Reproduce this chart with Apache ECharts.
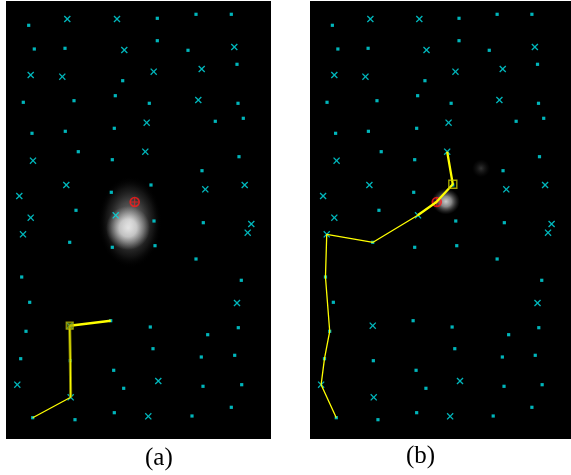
<!DOCTYPE html>
<html>
<head>
<meta charset="utf-8">
<script src="https://cdn.jsdelivr.net/npm/echarts@6/dist/echarts.min.js"></script>
<style>html,body{margin:0;padding:0;background:#fff;}#c{width:571px;height:475px;}</style>
</head>
<body>
<div id="c"></div>
<script>
// Feature points (same field in both panels), image pixel coords of panel (a)
const dots = [[28.7,25.3],[157.3,18.3],[196,14.3],[231.3,14.3],[34.3,49],[65,48.3],[157.3,40.7],[188,50.3],[237,64.3],[122.7,80.7],[23.3,102.3],[74,100.7],[115.3,95.7],[149.3,103.3],[238,103.3],[243.3,118.3],[215.3,121.3],[32,133.3],[65.3,131.3],[114.3,128.3],[78.3,151.7],[112.3,159.7],[239,156.7],[202,170.7],[151,185],[111.3,192.3],[76,210.3],[154,221],[203.3,222.7],[69.7,242.3],[112.3,247.3],[155,245.7],[196,259],[21.7,277],[241.3,280.3],[29.7,302.3],[26,331.3],[150.3,327],[238.3,327.7],[207.7,334.7],[153,348.7],[20.7,358.7],[201.3,357],[234.7,355.3],[70.3,360.7],[113.7,370.3],[123.7,388.3],[203,386.3],[241.7,384.7],[231.3,407.3],[114.3,412.7],[75,419.7],[192,416],[32.7,417.7],[110.7,320.7]];
const crosses = [[67.3,19],[117,19],[124.3,50],[234.3,47],[30.7,75],[62.3,76.7],[153.7,71.7],[201.7,69],[198.3,100],[146.7,122.7],[145.3,151.7],[33,160.7],[66.3,185],[244.7,185],[19.3,196],[205.3,189.3],[30.7,217.7],[115.7,215.3],[251.3,224],[247.7,232.7],[23,234.3],[237,303],[17.3,384.7],[158.3,381],[70.7,397.3],[148.3,416.3],[69.7,325.7]];
const target = [[134.7,202]];
// Panel (a) track
const pathAThin = [[32.7,417.7],[70.7,397.3]];
const pathAOlive = [[70.7,397.3],[70.3,360.7],[69.7,325.7]];
const pathAThick = [[69.7,325.7],[110.7,320.7]];
const squareA = [[69.7,325.7]];
// Panel (b) track
const pathBThick = [[145.3,151.7],[151,184.3],[134.4,202],[115.4,215.3]];
const pathBThin = [[115.4,215.3],[70,242.3],[23,234.3],[21.7,277],[26,331.3],[20.7,358.7],[17.3,384.7],[32.7,417.7]];
const squareB = [[151,184.3]];
// Blobs
const blobAHalo = [[130,222]];
const blobACore = [[128,228]];
const blobBCore = [[144,201.5]];
const blobBFaint = [[179.7,168.3]];
const labels = ['(a)','(b)'];

const XPATH = 'path://M0,1.3L1.3,0L5,3.7L8.7,0L10,1.3L6.3,5L10,8.7L8.7,10L5,6.3L1.3,10L0,8.7L3.7,5Z';
const PLUS = 'path://M4.4,0L5.6,0L5.6,4.4L10,4.4L10,5.6L5.6,5.6L5.6,10L4.4,10L4.4,5.6L0,5.6L0,4.4L4.4,4.4Z';
const CYAN = '#00e3ea';

function radial(stops){return {type:'radial',x:0.5,y:0.5,r:0.5,colorStops:stops};}

function panelSeries(i){
  const ax = {xAxisIndex:i, yAxisIndex:i};
  const s = [];
  if(i===0){
    s.push(Object.assign({type:'scatter',data:blobAHalo,symbol:'circle',symbolSize:[64,92],silent:true,z:1,
      itemStyle:{color:radial([{offset:0,color:'rgba(200,200,200,0.9)'},{offset:0.45,color:'rgba(140,140,140,0.6)'},{offset:0.75,color:'rgba(70,70,70,0.35)'},{offset:1,color:'rgba(0,0,0,0)'}])}},ax));
    s.push(Object.assign({type:'scatter',data:blobACore,symbol:'circle',symbolSize:[44,44],silent:true,z:2,
      itemStyle:{color:radial([{offset:0,color:'rgba(255,255,255,1)'},{offset:0.4,color:'rgba(245,245,245,0.85)'},{offset:1,color:'rgba(200,200,200,0)'}])}},ax));
  } else {
    s.push(Object.assign({type:'scatter',data:blobBCore,symbol:'circle',symbolSize:[28,26],silent:true,z:2,
      itemStyle:{color:radial([{offset:0,color:'rgba(255,255,255,1)'},{offset:0.4,color:'rgba(225,225,225,0.75)'},{offset:1,color:'rgba(100,100,100,0)'}])}},ax));
    s.push(Object.assign({type:'scatter',data:blobBFaint,symbol:'circle',symbolSize:[18,18],silent:true,z:2,
      itemStyle:{color:radial([{offset:0,color:'rgba(70,70,70,0.9)'},{offset:1,color:'rgba(30,30,30,0)'}])}},ax));
  }
  s.push(Object.assign({type:'scatter',data:dots,symbol:'rect',symbolSize:3.2,z:3,itemStyle:{color:CYAN}},ax));
  s.push(Object.assign({type:'scatter',data:crosses,symbol:XPATH,symbolSize:7,z:3,itemStyle:{color:CYAN}},ax));
  s.push(Object.assign({type:'scatter',data:target,symbol:'circle',symbolSize:9,z:4,itemStyle:{color:'rgba(0,0,0,0)',borderColor:'#ff1a1a',borderWidth:1.6}},ax));
  s.push(Object.assign({type:'scatter',data:target,symbol:PLUS,symbolSize:8,z:4,itemStyle:{color:'#ff1a1a'}},ax));
  const line = (data,color,w,z)=>Object.assign({type:'line',data:data,symbol:'none',z:z,silent:true,lineStyle:{color:color,width:w}},ax);
  if(i===0){
    s.push(line(pathAThin,'#ffff00',1.3,5));
    s.push(line(pathAOlive,'rgba(150,150,0,0.9)',3,5));
    s.push(line(pathAOlive,'#ffff00',1,6));
    s.push(line(pathAThick,'#ffff00',2.6,5));
    s.push(Object.assign({type:'scatter',data:squareA,symbol:'rect',symbolSize:7,z:7,itemStyle:{color:'rgba(140,140,0,0.75)',borderColor:'#b8b800',borderWidth:1.2}},ax));
  } else {
    s.push(line(pathBThick,'#ffff00',2.3,5));
    s.push(line(pathBThin,'#ffff00',1.3,5));
    s.push(Object.assign({type:'scatter',data:squareB,symbol:'rect',symbolSize:8,z:7,itemStyle:{color:'rgba(0,0,0,0)',borderColor:'#cccc00',borderWidth:1.4}},ax));
  }
  return s;
}

const axisX = i=>({type:'value',gridIndex:i,min:6,max:271,show:false,splitLine:{show:false}});
const axisY = i=>({type:'value',gridIndex:i,min:1,max:439,inverse:true,show:false,splitLine:{show:false}});

const chart = echarts.init(document.getElementById('c'),null,{renderer:'canvas'});
chart.setOption({
  backgroundColor:'#ffffff',
  animation:false,
  grid:[
    {left:6,top:1,width:265,height:438,show:true,backgroundColor:'#000',borderWidth:0},
    {left:310,top:1,width:265,height:438,show:true,backgroundColor:'#000',borderWidth:0}
  ],
  xAxis:[axisX(0),axisX(1)],
  yAxis:[axisY(0),axisY(1)],
  series:panelSeries(0).concat(panelSeries(1)),
  graphic:[
    {type:'text',left:145,top:446,style:{text:labels[0],font:'25px "Liberation Serif", serif',fill:'#000'}},
    {type:'text',left:406,top:444,style:{text:labels[1],font:'25px "Liberation Serif", serif',fill:'#000'}}
  ]
});
</script>
</body>
</html>
